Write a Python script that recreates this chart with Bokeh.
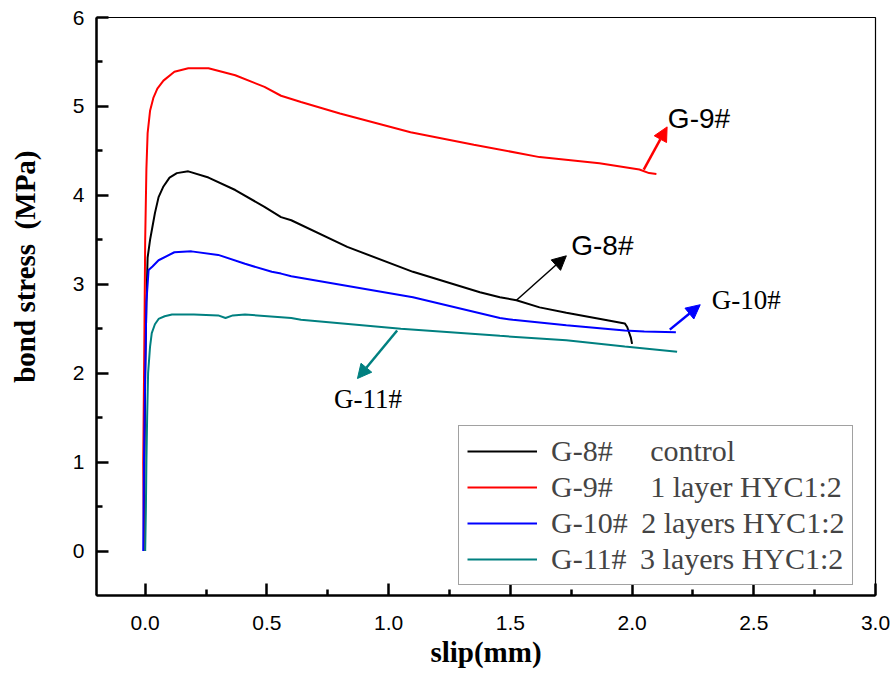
from bokeh.plotting import figure
from bokeh.models import (Legend, LegendItem, FixedTicker, Arrow, NormalHead,
                          Label, Range1d, PrintfTickFormatter)
from bokeh.embed import file_html
from bokeh.resources import INLINE

NB = "\u00a0"
THIN = "\u2009"

# ---- data (slip in mm, bond stress in MPa) ----
g8_x = [-0.005, -0.003, 0.0, 0.005, 0.01, 0.02, 0.03, 0.04, 0.055, 0.075, 0.10, 0.13,
        0.177, 0.26, 0.37, 0.49, 0.558, 0.60, 0.83, 1.10, 1.375, 1.457, 1.525, 1.62,
        1.73, 1.87, 1.97, 1.98, 1.995, 2.0]
g8_y = [0.0, 1.0, 2.0, 2.8, 3.30, 3.50, 3.65, 3.80, 3.98, 4.10, 4.20, 4.25,
        4.27, 4.20, 4.06, 3.87, 3.755, 3.72, 3.42, 3.14, 2.91, 2.855, 2.82, 2.74,
        2.68, 2.61, 2.56, 2.52, 2.40, 2.33]

g9_x = [-0.005, -0.008, -0.003, 0.0, 0.005, 0.01, 0.02, 0.034, 0.05, 0.075, 0.12,
        0.177, 0.26, 0.37, 0.49, 0.558, 0.64, 0.80, 1.09, 1.35, 1.62, 1.866, 2.03,
        2.07, 2.10]
g9_y = [0.0, 1.0, 2.5, 3.5, 4.3, 4.7, 4.95, 5.10, 5.20, 5.29, 5.39,
        5.43, 5.43, 5.35, 5.22, 5.12, 5.05, 4.92, 4.71, 4.57, 4.43, 4.36, 4.29,
        4.25, 4.24]

g10_x = [-0.008, -0.005, 0.0, 0.005, 0.014, 0.03, 0.055, 0.12, 0.19, 0.30, 0.41,
         0.52, 0.558, 0.60, 1.10, 1.457, 1.51, 1.73, 1.97, 2.05, 2.18]
g10_y = [0.0, 1.0, 2.0, 2.8, 3.16, 3.20, 3.27, 3.36, 3.37, 3.33, 3.23,
         3.14, 3.12, 3.09, 2.855, 2.62, 2.60, 2.54, 2.48, 2.47, 2.46]

g11_x = [0.0, 0.003, 0.005, 0.008, 0.012, 0.02, 0.027, 0.04, 0.055, 0.08, 0.11,
         0.20, 0.30, 0.33, 0.36, 0.41, 0.60, 0.64, 1.05, 1.457, 1.73, 1.97, 2.185]
g11_y = [0.0, 0.5, 1.0, 1.5, 2.0, 2.3, 2.45, 2.55, 2.61, 2.64, 2.66,
         2.66, 2.65, 2.62, 2.65, 2.66, 2.62, 2.60, 2.50, 2.42, 2.37, 2.30, 2.24]

series_names = ["G-8#", "G-9#", "G-10#", "G-11#"]
series_desc = ["control", "1 layer HYC1:2", "2 layers HYC1:2", "3 layers HYC1:2"]
series_gap = [NB * 5, NB * 5, NB + THIN, NB + THIN]
series_colors = ["#000000", "#FF0000", "#0000FF", "#008080"]

x_ticks = [0.0, 0.5, 1.0, 1.5, 2.0, 2.5, 3.0]
x_minor = [0.25, 0.75, 1.25, 1.75, 2.25, 2.75]
y_ticks = [0, 1, 2, 3, 4, 5, 6]
y_minor = [0.5, 1.5, 2.5, 3.5, 4.5, 5.5]

# annotation arrows: (x_start, y_start, x_end, y_end)
arrows = {
    "G-8#": (1.525, 2.82, 1.73, 3.32),
    "G-9#": (2.048, 4.29, 2.144, 4.77),
    "G-10#": (2.155, 2.49, 2.28, 2.77),
    "G-11#": (1.035, 2.48, 0.872, 1.94),
}
# annotation text positions (left x, middle y)
labels = {
    "G-8#": (1.75, 3.44, "Liberation Sans", "28px"),
    "G-9#": (2.147, 4.865, "Liberation Sans", "28px"),
    "G-10#": (2.327, 2.82, "Liberation Serif", "27px"),
    "G-11#": (0.776, 1.71, "Liberation Serif", "27px"),
}

p = figure(width=890, height=675, x_range=Range1d(-0.2, 3.0), y_range=Range1d(-0.5, 6.0),
           output_backend="svg", toolbar_location=None,
           min_border_left=96, min_border_right=15, min_border_top=17, min_border_bottom=80)
p.xgrid.visible = False
p.ygrid.visible = False
p.outline_line_color = "black"
p.outline_line_width = 1.2
p.background_fill_color = "white"
p.border_fill_color = "white"

for ax, tk, mn in ((p.xaxis[0], x_ticks, x_minor), (p.yaxis[0], y_ticks, y_minor)):
    ax.ticker = FixedTicker(ticks=tk, minor_ticks=mn)
    ax.axis_line_color = "black"
    ax.major_tick_line_color = "black"
    ax.minor_tick_line_color = "black"
    ax.major_tick_in = 12
    ax.major_tick_out = 0
    ax.minor_tick_in = 6
    ax.minor_tick_out = 0
    ax.axis_line_width = 2.5
    ax.major_tick_line_width = 2.5
    ax.minor_tick_line_width = 2.5
    ax.major_label_text_font = "Liberation Sans"
    ax.major_label_text_font_size = "21px"
    ax.major_label_text_color = "black"
    ax.major_label_standoff = 12
    ax.axis_label_text_font = "Liberation Serif"
    ax.axis_label_text_font_style = "bold"
    ax.axis_label_text_font_size = "29px"
    ax.axis_label_text_color = "black"

p.xaxis.formatter = PrintfTickFormatter(format="%.1f")
p.yaxis.formatter = PrintfTickFormatter(format="%d")
p.xaxis.major_label_standoff = 20
p.xaxis.axis_label = "slip(mm)"
p.xaxis.axis_label_standoff = 3
p.yaxis.axis_label = NB * 11 + "bond stress" + NB * 2 + "(MPa)"
p.yaxis.axis_label_standoff = 29

xs = [g8_x, g9_x, g10_x, g11_x]
ys = [g8_y, g9_y, g10_y, g11_y]
renderers = []
for x, y, c in zip(xs, ys, series_colors):
    r = p.line(x, y, line_color=c, line_width=2)
    renderers.append(r)

items = []
for r, n, d, g in zip(renderers, series_names, series_desc, series_gap):
    items.append(LegendItem(label=n + g + d, renderers=[r]))

legend = Legend(items=items, location=(362, 10))
legend.label_text_font = "Liberation Serif"
legend.label_text_font_size = "30px"
legend.glyph_width = 70
legend.glyph_height = 34
legend.label_height = 34
legend.label_standoff = 14
legend.padding = 8
legend.spacing = 2
legend.margin = 0
legend.border_line_color = "#444444"
legend.border_line_width = 1
legend.background_fill_alpha = 1.0
p.add_layout(legend)

for n, c in zip(series_names, series_colors):
    xs0, ys0, xe, ye = arrows[n]
    lw = 1.5 if n == "G-8#" else 2.5
    p.add_layout(Arrow(end=NormalHead(size=14, fill_color=c, line_color=c),
                       x_start=xs0, y_start=ys0, x_end=xe, y_end=ye,
                       line_color=c, line_width=lw))
    lx, ly, font, size = labels[n]
    p.add_layout(Label(x=lx, y=ly, text=n, text_font=font, text_font_size=size,
                       text_baseline="middle", text_align="left", text_color="black"))

open("out.html", "w").write(file_html(p, INLINE))
